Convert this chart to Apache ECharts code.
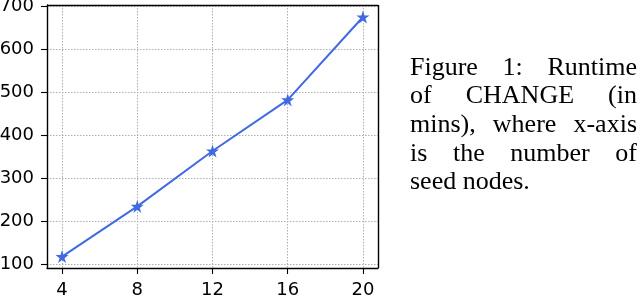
<!DOCTYPE html>
<html><head><meta charset="utf-8">
<script src="https://cdn.jsdelivr.net/npm/echarts@6/dist/echarts.min.js"></script>
<style>html,body{margin:0;padding:0;background:#fff}#c{width:640px;height:298px}</style>
</head><body><div id="c"></div>
<script>
const seedNodes = [4, 8, 12, 16, 20];
const runtimeMins = [117, 234, 363, 482, 675];
const xTicks = [4, 8, 12, 16, 20];
const yTicks = [100, 200, 300, 400, 500, 600, 700];
const captionLines = [
  ["Figure", "1:", "Runtime"],
  ["of", "CHANGE", "(in"],
  ["mins),", "where", "x-axis"],
  ["is", "the", "number", "of"],
  ["seed nodes."]
];

const chart = echarts.init(document.getElementById('c'), null, {renderer: 'canvas'});
const capSize = 26;
const capFont = capSize + 'px "Liberation Serif", "Times New Roman", serif';
const ctx = document.createElement('canvas').getContext('2d');
ctx.font = capFont;
const capLeft = 410, capRight = 637, capBase = 76, capLH = 28.7;
const graphics = [];
captionLines.forEach((words, li) => {
  const top = capBase + li * capLH - capSize * 0.82;
  if (li === captionLines.length - 1) {
    graphics.push({type: 'text', left: capLeft, top: top, style: {text: words.join(' '), font: capFont, fill: '#000'}});
    return;
  }
  const widths = words.map(w => ctx.measureText(w).width);
  const total = widths.reduce((a, b) => a + b, 0);
  const gap = (capRight - capLeft - total) / (words.length - 1);
  let x = capLeft;
  words.forEach((w, i) => {
    graphics.push({type: 'text', left: x, top: top, style: {text: w, font: capFont, fill: '#000'}});
    x += widths[i] + gap;
  });
});

const axisFont = {fontFamily: 'DejaVu Sans', fontSize: 18, color: '#000'};
chart.setOption({
  animation: false,
  grid: {left: 47, right: 262, top: 5, bottom: 30, show: false, containLabel: false, outerBoundsMode: 'none'},
  xAxis: {
    type: 'value', min: 3.2, max: 20.8,
    axisLine: {show: true, onZero: false, lineStyle: {color: '#000', width: 1.4}},
    axisTick: {show: true, length: 6, customValues: xTicks, lineStyle: {color: '#000', width: 1.1}},
    axisLabel: Object.assign({customValues: xTicks, margin: 13}, axisFont),
    splitLine: {show: true, lineStyle: {color: '#b0b0b0', type: [1.5, 1.5], width: 1}}
  },
  yAxis: {
    type: 'value', min: 90.5, max: 703,
    axisLine: {show: true, onZero: false, lineStyle: {color: '#000', width: 1.4}},
    axisTick: {show: true, length: 6, customValues: yTicks, lineStyle: {color: '#000', width: 1.1}},
    axisLabel: Object.assign({customValues: yTicks, margin: 13}, axisFont),
    splitLine: {show: true, lineStyle: {color: '#b0b0b0', type: [1.5, 1.5], width: 1}}
  },
  series: [{
    type: 'line',
    data: seedNodes.map((x, i) => [x, runtimeMins[i]]),
    symbol: 'path://M50,0 L61.8,36.2 L100,36.2 L69.1,58.8 L80.9,95.1 L50,72.6 L19.1,95.1 L30.9,58.8 L0,36.2 L38.2,36.2 Z',
    symbolSize: 13,
    lineStyle: {color: '#4169e1', width: 2},
    itemStyle: {color: '#4169e1'},
    markLine: {
      silent: true, symbol: 'none', label: {show: false},
      lineStyle: {color: '#000', type: 'solid', width: 1.4},
      data: [{xAxis: 20.8}, {yAxis: 703}]
    }
  }],
  graphic: graphics
});
</script></body></html>
